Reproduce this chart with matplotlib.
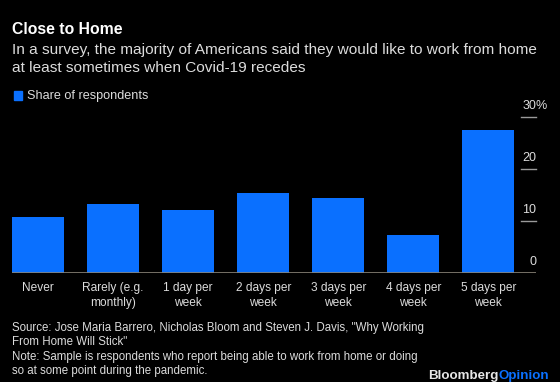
import matplotlib
matplotlib.use("Agg")
import matplotlib.pyplot as plt
from matplotlib.transforms import blended_transform_factory, offset_copy
from matplotlib.text import Annotation

categories = ["Never", "Rarely (e.g.\nmonthly)", "1 day per\nweek", "2 days per\nweek",
              "3 days per\nweek", "4 days per\nweek", "5 days per\nweek"]
share = [10.8, 13.3, 12.2, 15.4, 14.4, 7.4, 27.6]
yticks = [0, 10, 20, 30]
ytick_labels = ["0", "10", "20", "30"]

BG = "#000000"
BLUE = "#0a70ff"
TXT = "#dcdcdc"
FONT = "Liberation Sans"

plt.rcParams['font.family'] = [FONT, 'DejaVu Sans']

W, H = 560, 382
fig = plt.figure(figsize=(W / 100, H / 100), dpi=100, facecolor=BG)

def fx(px):
    return px / W

def fy(py):
    return 1 - py / H

# axes: left 12, right 536, zero at y=273.3, 30 at y=117.3
ax = fig.add_axes([fx(12), fy(273.3), fx(536 - 12), (273.3 - 117.3) / H])
ax.set_facecolor(BG)
x = list(range(len(categories)))
ax.bar(x, share, width=0.69, color=BLUE, zorder=2)
ax.set_xlim(-0.349, 6.637)
ax.set_ylim(0, 30)
for s in ax.spines.values():
    s.set_visible(False)
ax.set_xticks([])
ax.set_yticks([])
ax.axhline(0, color="#8a8478", lw=1.2, zorder=3)

# custom right-hand ticks and labels
tr = blended_transform_factory(ax.transAxes, ax.transData)
trf = blended_transform_factory(fig.transFigure, ax.transData)
for v, lab in zip(yticks, ytick_labels):
    if v != 0:
        ax.plot([fx(520.7), fx(536)], [v, v], transform=trf,
                color="#9a9a9a", lw=1.0, clip_on=False)
    t = ax.text(1.0, v, lab, transform=offset_copy(tr, fig=fig, x=0, y=5.8, units='points'),
                ha='right', va='baseline', color=TXT, fontsize=9, clip_on=False)
    if v == 30:
        ax.annotate("%", xy=(1, 0), xycoords=t, ha='left', va='bottom', color=TXT, fontsize=9)

# category labels
for xi, lab in zip(x, categories):
    ax.text(xi, 0, lab, transform=offset_copy(ax.transData, fig=fig, x=0, y=-6, units='points'),
            ha='center', va='top', color=TXT, fontsize=8.6, linespacing=1.35, clip_on=False)

# title, subtitle
fig.text(fx(12.5), fy(34), "Close to Home", color="white", fontsize=11.3, fontweight='bold',
         ha='left', va='baseline')
fig.text(fx(12.5), fy(53.6), "In a survey, the majority of Americans said they would like to work from home",
         color=TXT, fontsize=11.1, ha='left', va='baseline')
fig.text(fx(12.5), fy(71.6), "at least sometimes when Covid-19 recedes",
         color=TXT, fontsize=11.1, ha='left', va='baseline')

# legend
fig.patches.append(plt.Rectangle((fx(13.6), fy(100)), fx(8.4), (100 - 91) / H, transform=fig.transFigure,
                                 color=BLUE, figure=fig))
fig.text(fx(26.8), fy(99.5), "Share of respondents", color=TXT, fontsize=9.1, ha='left', va='baseline')

# footnote
foot = ['Source: Jose Maria Barrero, Nicholas Bloom and Steven J. Davis, "Why Working',
        'From Home Will Stick"',
        'Note: Sample is respondents who report being able to work from home or doing',
        'so at some point during the pandemic.']
for i, line in enumerate(foot):
    fig.text(fx(12.5), fy(331 + 14.4 * i), line, color=TXT, fontsize=8.3, ha='left', va='baseline')

b = fig.text(fx(428), fy(379), "Bloomberg", color="#e6e6e6", fontsize=9.6, fontweight='bold',
             ha='left', va='baseline')
ann = Annotation("Opinion", xy=(1, 0), xycoords=b, ha='left', va='bottom', color=BLUE,
                 fontsize=9.6, fontweight='bold')
fig.add_artist(ann)

fig.savefig("out.png", dpi=100, facecolor=BG)
